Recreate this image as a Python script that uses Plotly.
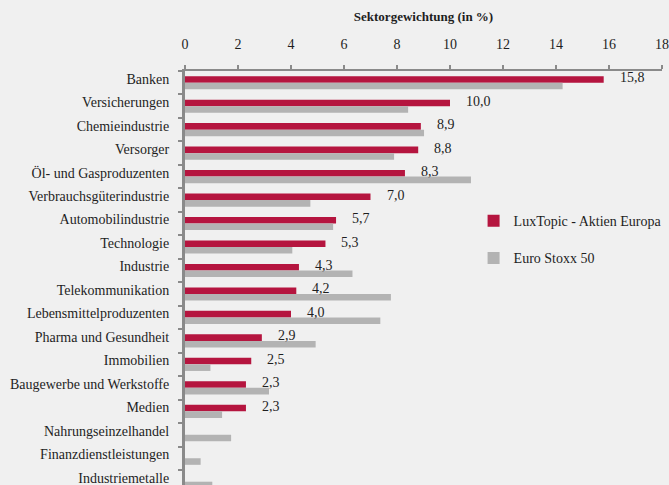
import plotly.graph_objects as go

categories = ["Banken", "Versicherungen", "Chemieindustrie", "Versorger",
              "Öl- und Gasproduzenten", "Verbrauchsgüterindustrie", "Automobilindustrie",
              "Technologie", "Industrie", "Telekommunikation", "Lebensmittelproduzenten",
              "Pharma und Gesundheit", "Immobilien", "Baugewerbe und Werkstoffe", "Medien",
              "Nahrungseinzelhandel", "Finanzdienstleistungen", "Industriemetalle"]
luxtopic = [15.8, 10.0, 8.9, 8.8, 8.3, 7.0, 5.7, 5.3, 4.3, 4.2, 4.0, 2.9, 2.5, 2.3, 2.3, 0, 0, 0]
eurostoxx = [14.25, 8.42, 9.02, 7.89, 10.79, 4.73, 5.59, 4.05, 6.32, 7.77, 7.37, 4.93,
             0.96, 3.17, 1.40, 1.74, 0.59, 1.03]
x_ticks = [0, 2, 4, 6, 8, 10, 12, 14, 16, 18]

FONT = "Liberation Serif"
TXT = "#1e1e1e"
RED = "#b5153f"
GRAY = "#b3b3b3"
AXIS = "#8a8a8a"
BG = "#f0f0f0"

fig = go.Figure()
fig.add_trace(go.Bar(y=categories, x=luxtopic, orientation="h", name="LuxTopic - Aktien Europa",
                     marker=dict(color=RED, line=dict(width=0)), legendgroup="a"))
fig.add_trace(go.Bar(y=categories, x=eurostoxx, orientation="h", name="Euro Stoxx 50",
                     marker=dict(color=GRAY, line=dict(width=0)), legendgroup="b"))

for c, v in zip(categories, luxtopic):
    if v > 0:
        fig.add_annotation(x=v, y=c, xref="x", yref="y", text=f"{v:.1f}".replace(".", ","),
                           showarrow=False, xanchor="left", yanchor="middle",
                           xshift=14, yshift=5, font=dict(family=FONT, size=14, color=TXT))

fig.update_layout(
    width=669, height=485,
    margin=dict(l=185, r=7, t=71, b=0),
    paper_bgcolor=BG, plot_bgcolor=BG,
    barmode="group", bargap=0.44, bargroupgap=0.0,
    font=dict(family=FONT, size=14, color=TXT),
    separators=",.",
    legend=dict(x=0.605, y=0.676, xanchor="left", yanchor="top",
                font=dict(family=FONT, size=14, color=TXT),
                tracegroupgap=16, traceorder="grouped", bgcolor="rgba(0,0,0,0)"),
    xaxis=dict(side="top", range=[0, 18], tickvals=x_ticks, showgrid=False, zeroline=False,
               showline=True, linecolor=AXIS, linewidth=2,
               ticks="outside", ticklen=4, tickcolor=AXIS, tickwidth=1.5,
               ticklabelstandoff=10,
               tickfont=dict(family=FONT, size=14, color=TXT),
               title=dict(text="<b>Sektorgewichtung (in %)</b>", standoff=13,
                          font=dict(family=FONT, size=13, color=TXT))),
    yaxis=dict(autorange=False, range=[17.14, -0.5], type="category",
               showgrid=False, zeroline=False, showline=True, linecolor=AXIS, linewidth=3,
               ticks="outside", ticklen=4, tickcolor=AXIS, tickwidth=1.5,
               tickson="boundaries", ticklabelstandoff=10, ticklabelshift=4,
               tickfont=dict(family=FONT, size=14, color=TXT)),
)

fig.write_html("out.html", config={"displayModeBar": False},
               post_script="document.body.style.margin='0';document.body.style.background='%s';" % BG)
